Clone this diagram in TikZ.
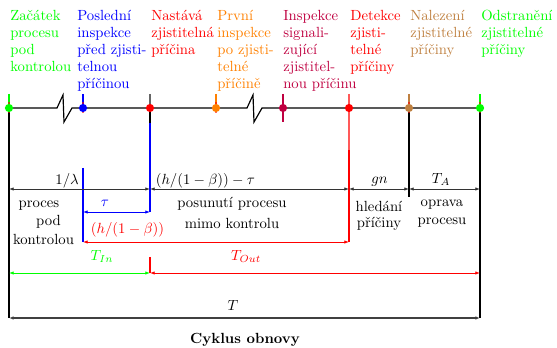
\documentclass[tikz,border=0pt]{standalone}
\usetikzlibrary{arrows.meta}
\begin{document}
\begin{tikzpicture}[x=0.68pt,y=-0.68pt,
  lab/.style={anchor=north west,inner sep=0pt,align=left,font=\fontsize{10}{11.6}\selectfont},
  txt/.style={anchor=base,inner sep=0pt},
  dim/.style={{Latex[length=3.2pt,width=2.4pt]}-{Latex[length=3.2pt,width=2.4pt]}, line width=0.6pt},
  tl/.style={line width=0.8pt},
  vl/.style={line width=0.8pt},
  tick/.style={line width=0.8pt},
  rtick/.style={line width=0.8pt, red, opacity=0.6},
  dot/.style={circle,inner sep=0pt,minimum size=5.6pt}]
\useasboundingbox (0,0) rectangle (557,348);

% timeline points
\coordinate (p1) at (9,108);
\coordinate (p2) at (83,108);
\coordinate (p3) at (150,108);
\coordinate (p4) at (216,108);
\coordinate (p5) at (283,108);
\coordinate (p6) at (349,108);
\coordinate (p7) at (409,108);
\coordinate (p8) at (480,108);
% breaks
\coordinate (b1a) at (57,108); \coordinate (b1b) at (63,95);
\coordinate (b1c) at (64,122); \coordinate (b1d) at (72,108);
\coordinate (b2a) at (247,108); \coordinate (b2b) at (253,95);
\coordinate (b2c) at (254,122); \coordinate (b2d) at (262,108);

% top labels
\node[lab,text=green] (l1) at (10,9.8) {Začátek\\procesu\\pod\\kontrolou};
\node[lab,text=blue] (l2) at (77,9.8) {Poslední\\inspekce\\před zjisti-\\telnou\\příčinou};
\node[lab,text=red] (l3) at (151,9.8) {Nastává\\zjistitelná\\příčina};
\node[lab,text=orange] (l4) at (217,9.8) {První\\inspekce\\po zjisti-\\telné\\příčině};
\node[lab,text=purple] (l5) at (283,9.8) {Inspekce\\signali-\\zující\\zjistitel-\\nou příčinu};
\node[lab,text=red] (l6) at (350,9.8) {Detekce\\zjisti-\\telné\\příčiny};
\node[lab,text=brown] (l7) at (410,9.8) {Nalezení\\zjistitelné\\příčiny};
\node[lab,text=green] (l8) at (481,9.8) {Odstranění\\zjistitelné\\příčiny};

% ticks above
\coordinate (t1) at (9,94);   \coordinate (t2) at (83,94);
\coordinate (t3) at (150,94); \coordinate (t4) at (216,94);
\coordinate (t5) at (283,94); \coordinate (t6) at (349,94);
\coordinate (t7) at (409,94); \coordinate (t8) at (480,94);
\draw[tick,green] (t1) -- (p1);
\draw[tick,blue] (t2) -- (p2);
\draw[tick,black!60] (t3) -- (p3);
\draw[tick,orange] (t4) -- (p4);
\draw[tick,purple] (t5) -- (283,122);
\draw[tick,brown] (t7) -- (p7);
\draw[tick,green] (t8) -- (p8);

% vertical lines
\coordinate (v1) at (9,318);
\coordinate (v8) at (480,318);
\coordinate (v7) at (409,197);
\coordinate (v3a) at (150,123);
\coordinate (v3b) at (150,212);
\coordinate (v2a) at (83,168);
\coordinate (v2b) at (83,242);
\coordinate (v6) at (349,242);
\draw[vl] (p1) -- (v1);
\draw[vl] (p8) -- (v8);
\draw[vl] (p7) -- (v7);
\draw[vl] (p3) -- (v3a);
\draw[vl,blue] (v3a) -- (v3b);
\draw[vl,blue] (v2a) -- (v2b);
\draw[vl,red,opacity=0.65] (t6) -- (349,150);
\draw[vl,red] (349,150) -- (v6);

% timeline
\draw[tl] (p1) -- (b1a) -- (b1b) -- (b1c) -- (b1d) -- (p2) -- (p3) -- (p4)
  -- (b2a) -- (b2b) -- (b2c) -- (b2d) -- (p5) -- (p6) -- (p7) -- (p8);

% small red ticks through dots
\foreach \x in {9,83,216,409,480} \draw[rtick] (\x,102) -- (\x,113);

% dots
\node[dot,fill=green] (d1) at (p1) {};
\node[dot,fill=blue] (d2) at (p2) {};
\node[dot,fill=red] (d3) at (p3) {};
\node[dot,fill=orange] (d4) at (p4) {};
\node[dot,fill=purple] (d5) at (p5) {};
\node[dot,fill=red] (d6) at (p6) {};
\node[dot,fill=brown] (d7) at (p7) {};
\node[dot,fill=green] (d8) at (p8) {};

% first dimension row
\coordinate (a1) at (9,189);  \coordinate (a3) at (150,189);
\coordinate (a6) at (349,189); \coordinate (a7) at (409,189);
\coordinate (a8) at (480,189);
\draw[dim,black!80] (a1) -- (a3);
\draw[dim,black!80] (a3) -- (a6);
\draw[dim,black!80] (a6) -- (a7);
\draw[dim,black!80] (a7) -- (a8);
\node[txt,anchor=base east] (lam) at (79,184.5) {$1/\lambda$};
\node[txt,anchor=base west] (hbt) at (155.5,184.5) {$(h/(1-\beta))-\tau$};
\node[txt] (gn) at (379.5,183.5) {$gn$};
\node[txt] (ta) at (441,183.5) {$T_A$};

% tau
\coordinate (s2) at (83,212); \coordinate (s3) at (150,212);
\draw[dim,blue] (s2) -- (s3);
\node[txt,text=blue] (tau) at (105,207) {$\tau$};

% h/(1-beta)
\coordinate (r2) at (83,242); \coordinate (r6) at (349,242);
\draw[dim,red] (r2) -- (r6);
\node[txt,text=red] (hb) at (127.5,234) {$(h/(1-\beta))$};

% TIn / TOut
\coordinate (g1) at (9,273); \coordinate (g3) at (150,273);
\coordinate (g8) at (480,273); \coordinate (g3t) at (150,257);
\draw[dim,green] (g1) -- (g3);
\draw[dim,red] (g3) -- (g8);
\draw[vl,red] (g3t) -- (g3);
\node[txt,text=green] (tin) at (102,260.5) {$T_{In}$};
\node[txt,text=red] (tout) at (246,260.5) {$T_{Out}$};

% T
\coordinate (w1) at (9,318); \coordinate (w8) at (480,318);
\draw[dim,black!75,line width=0.9pt] (w1) -- (w8);
\node[txt] (T) at (233,310) {$T$};

% phase texts
\node[txt] (c1a) at (39,207.5) {proces};
\node[txt] (c1b) at (48.5,226) {pod};
\node[txt] (c1c) at (43.5,245) {kontrolou};
\node[txt] (c2a) at (232,208) {posunutí procesu};
\node[txt] (c2b) at (232,229) {mimo kontrolu};
\node[txt] (c3a) at (379,212) {hledání};
\node[txt] (c3b) at (379,227.5) {příčiny};
\node[txt] (c4a) at (442,207) {oprava};
\node[txt] (c4b) at (442,225) {procesu};

\node[txt] (cap) at (245,343) {\textbf{Cyklus obnovy}};
\end{tikzpicture}
\end{document}
